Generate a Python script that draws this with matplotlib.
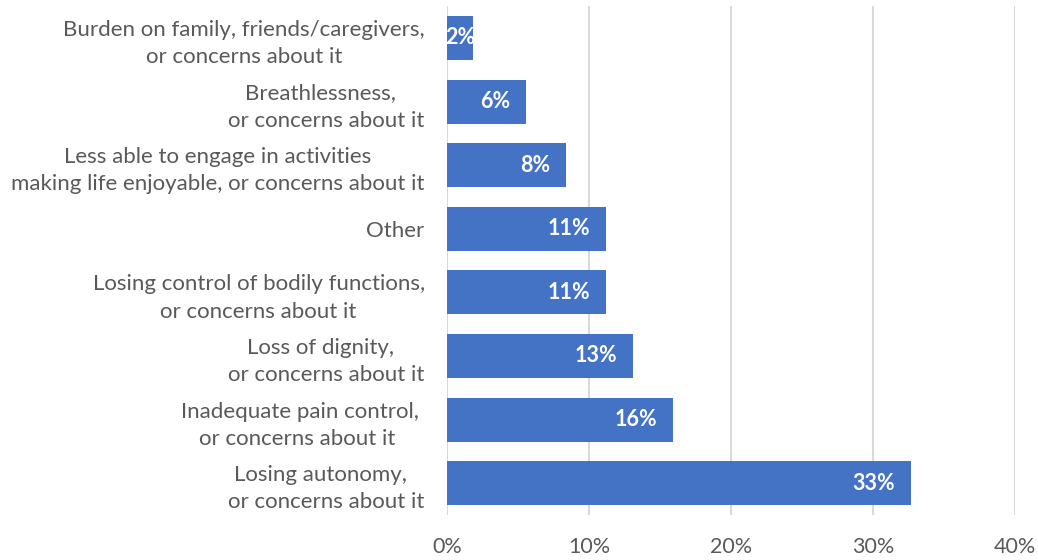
import matplotlib.pyplot as plt
from matplotlib.ticker import PercentFormatter

plt.rcParams['font.family'] = ['Lato', 'DejaVu Sans']

# reasons, top to bottom
reasons = [
    'Burden on family, friends/caregivers,\nor concerns about it',
    'Breathlessness,  \nor concerns about it',
    'Less able to engage in activities\nmaking life enjoyable, or concerns about it',
    'Other',
    'Losing control of bodily functions,\nor concerns about it',
    'Loss of dignity,  \nor concerns about it',
    'Inadequate pain control, \nor concerns about it  ',
    'Losing autonomy,  \nor concerns about it',
]
share = [1.8, 5.6, 8.4, 11.2, 11.2, 13.1, 15.9, 32.7]

bar_color = '#4472C4'
grid_color = '#D9D9D9'
text_color = '#595959'

fig = plt.figure(figsize=(10.38, 5.6), dpi=100)
ax = fig.add_axes([0.4306, 0.0804, 0.9778 - 0.4306, 0.989 - 0.0804])

y = range(len(reasons))
bars = ax.barh(y, share, height=0.69, color=bar_color, zorder=3)

ax.set_xlim(0, 40)
ax.set_ylim(len(reasons) - 0.5, -0.5)
ax.set_xticks([0, 10, 20, 30, 40])
ax.xaxis.set_major_formatter(PercentFormatter(decimals=0))
ax.set_yticks(list(y))
ax.set_yticklabels(reasons, multialignment='center', fontsize=16, linespacing=1.45)

ax.grid(axis='x', color=grid_color, linewidth=1.5, zorder=0)
for s in ax.spines.values():
    s.set_visible(False)
ax.tick_params(axis='both', length=0, colors=text_color)
ax.tick_params(axis='x', pad=16, labelsize=15.5)
ax.tick_params(axis='y', pad=16)

# value labels at the inside end of each bar
for i, v in enumerate(share):
    label = f'{v:.0f}%'
    if v < 3:
        ax.text(v / 2, i, label, ha='center', va='center', color='white',
                fontsize=15.5, fontweight='bold', zorder=4)
    else:
        ax.annotate(label, (v, i), xytext=(-11.5, 0), textcoords='offset points',
                    ha='right', va='center', color='white',
                    fontsize=15.5, fontweight='bold', zorder=4)

fig.savefig('out.png', dpi=100)
